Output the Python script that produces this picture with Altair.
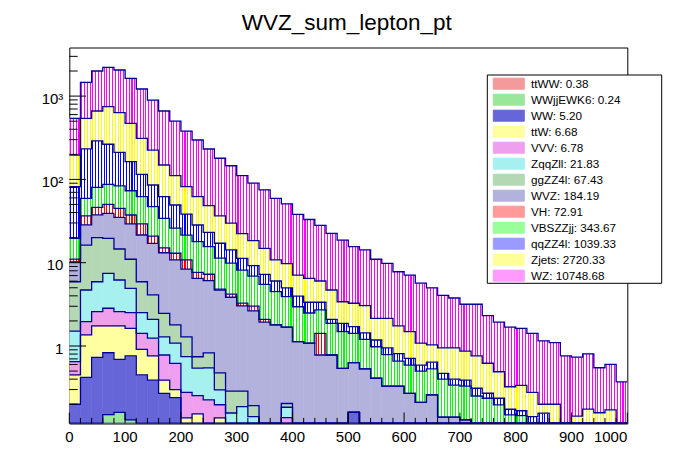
import altair as alt
import pandas as pd

# ---------------- data ----------------
labels = ["ttWW: 0.38", "WWjjEWK6: 0.24", "WW: 5.20", "ttW: 6.68", "VVV: 6.78",
          "ZqqZll: 21.83", "ggZZ4l: 67.43", "WVZ: 184.19", "VH: 72.91",
          "VBSZZjj: 343.67", "qqZZ4l: 1039.33", "Zjets: 2720.33", "WZ: 10748.68"]

ttWW = [0, 0, 0.06, 0.08, 0.09, 0.08, 0.07, 0, 0, 0,
        0, 0, 0, 0, 0, 0, 0, 0, 0, 0,
        0, 0, 0, 0, 0, 0, 0, 0, 0, 0,
        0, 0, 0, 0, 0, 0, 0, 0, 0, 0,
        0, 0, 0, 0, 0, 0, 0, 0, 0, 0]
WWjjEWK6 = [0, 0, 0.05, 0.07, 0.07, 0.05, 0, 0, 0, 0,
            0, 0, 0, 0, 0, 0, 0, 0, 0, 0,
            0, 0, 0, 0, 0, 0, 0, 0, 0, 0,
            0, 0, 0, 0, 0, 0, 0, 0, 0, 0,
            0, 0, 0, 0, 0, 0, 0, 0, 0, 0]
WW = [0.20, 0.42, 0.62, 0.68, 0.53, 0.63, 0.38, 0.39, 0.27, 0.24,
      0, 0, 0, 0, 0, 0, 0, 0, 0, 0,
      0, 0, 0, 0, 0, 0.16, 0, 0, 0, 0,
      0, 0, 0, 0, 0, 0, 0, 0, 0, 0,
      0, 0, 0, 0, 0, 0, 0, 0, 0, 0]
ttW = [0.25, 0.94, 1.01, 0.91, 1.05, 0.87, 0.46, 0.37, 0.12, 0.06,
       0.137, 0.153, 0, 0.137, 0, 0, 0, 0, 0, 0,
       0, 0, 0, 0, 0, 0, 0, 0, 0, 0,
       0, 0, 0, 0, 0, 0, 0, 0, 0, 0,
       0, 0, 0, 0, 0, 0, 0, 0, 0, 0]
VVV = [0.20, 0.60, 0.84, 1.10, 0.84, 0.88, 0.51, 0.48, 0.39, 0.32,
       0.14, 0.10, 0.225, 0.06, 0, 0, 0, 0, 0, 0.138,
       0, 0, 0, 0, 0, 0, 0, 0, 0, 0,
       0, 0, 0, 0, 0, 0, 0, 0, 0, 0,
       0, 0, 0, 0, 0, 0, 0, 0, 0, 0]
ZqqZll = [0.86, 2.74, 3.33, 4.62, 3.62, 2.42, 1.09, 0.85, 0.51, 0.46,
          0.47, 0.29, 0.32, 0.10, 0.157, 0.187, 0.142, 0, 0, 0.046,
          0, 0, 0, 0, 0, 0, 0, 0, 0, 0,
          0, 0, 0, 0, 0, 0, 0, 0, 0, 0,
          0, 0, 0, 0, 0, 0, 0, 0, 0, 0]
ggZZ4l = [4.4, 11.6, 14.1, 12.1, 8.4, 6.07, 3.4, 2.01, 1.18, 0.71,
          0.54, 0.20, 0.28, 0.18, 0.13, 0.10, 0.05, 0, 0, 0.02,
          0, 0, 0, 0, 0, 0, 0, 0, 0, 0,
          0, 0, 0, 0, 0, 0, 0, 0, 0, 0,
          0, 0, 0, 0, 0, 0, 0, 0, 0, 0]
WVZ = [4.3, 12.1, 17.4, 19.6, 20.5, 18.2, 15.6, 13.0, 10.7, 9.0,
       7.1, 5.75, 5.26, 4.22, 3.56, 2.74, 2.45, 1.93, 1.79, 1.48,
       1.13, 1.08, 0.78, 0.78, 0.54, 0.47, 0.53, 0.41, 0.33, 0.33,
       0.27, 0.21, 0.26, 0.14, 0.14, 0.13, 0, 0, 0, 0,
       0, 0, 0, 0, 0, 0, 0, 0, 0, 0]
VH = [0.8, 8.0, 8.8, 11.0, 9.9, 8.2, 7.7, 3.8, 1.9, 2.2,
      2.4, 1.17, 1.18, 0.13, 0.34, 0.24, 0.37, 0.16, 0, 0,
      0, 0, 0.64, 0, 0, 0, 0, 0, 0, 0,
      0, 0, 0, 0, 0, 0, 0, 0, 0, 0,
      0, 0, 0, 0, 0, 0, 0, 0, 0, 0]
VBSZZjj = [8.6, 22.9, 34.2, 37.1, 38.4, 35.7, 32.8, 26.1, 19.0, 13.0,
           10.7, 10.2, 8.3, 6.5, 5.7, 4.9, 3.9, 3.4, 2.7, 2.23,
           1.83, 1.41, 1.29, 1.09, 0.95, 0.79, 0.67, 0.57, 0.46, 0.33,
           0.32, 0.29, 0.27, 0.26, 0.20, 0.20, 0.251, 0.236, 0.196, 0.149,
           0.146, 0, 0, 0, 0, 0, 0, 0, 0, 0]
qqZZ4l = [62.1, 173, 209, 177, 128, 90, 53, 38.7, 27.9, 23.3,
          16.9, 10.5, 7.6, 5.8, 4.4, 3.1, 2.3, 1.76, 1.54, 1.06,
          1.02, 0.86, 0.64, 0.22, 0.38, 0.29, 0.24, 0.20, 0.16, 0.15,
          0.12, 0.09, 0.11, 0.07, 0.06, 0.06, 0.06, 0.035, 0.04, 0.025,
          0.021, 0.142, 0.156, 0, 0, 0, 0, 0, 0, 0]
Zjets = [114, 309, 373, 482, 421, 308, 196, 139, 87, 61.7,
         43.3, 33.6, 25.4, 19.3, 15.5, 11.1, 9.2, 7.6, 4.8, 4.8,
         3.1, 3.15, 2.68, 2.61, 1.53, 1.55, 1.61, 0.97, 1.20, 0.93,
         0.78, 0.49, 0.39, 0.48, 0.55, 0.48, 0.45, 0.35, 0.255, 0.15,
         0.17, 0.136, 0.044, 0.200, 0, 0.144, 0.175, 0.158, 0.171, 0]
WZ = [345, 924, 1338, 1471, 1425, 1165, 906, 672, 513, 391,
      299, 235, 183, 143, 116, 88.6, 71.6, 60.1, 48.2, 41.2,
      30.9, 26.5, 22.0, 17.8, 15.3, 12.3, 11.2, 8.85, 7.65, 6.05,
      5.6, 4.6, 3.97, 3.11, 2.82, 2.30, 2.41, 1.69, 1.44, 1.36,
      1.29, 1.14, 0.95, 0.90, 0.76, 0.59, 0.63, 0.39, 0.43, 0.37]

series = [ttWW, WWjjEWK6, WW, ttW, VVV, ZqqZll, ggZZ4l, WVZ, VH,
          VBSZZjj, qqZZ4l, Zjets, WZ]

swatch_colors = ["#f49a9a", "#9ae69a", "#6666d8", "#ffffa0", "#eea0ee",
                 "#a6f0f0", "#b4d8b4", "#b2b2dc", "#ff9a9a",
                 "#9aff9a", "#9a9aff", "#ffff9a", "#ff9aff"]
hatch_colors = {"VH: 72.91": "#ff0000", "VBSZZjj: 343.67": "#00ff00",
                "qqZZ4l: 1039.33": "#0000ff", "Zjets: 2720.33": "#ffff00",
                "WZ: 10748.68": "#ff00ff"}

title_text = "WVZ_sum_lepton_pt"
y_major = [1, 10, 100, 1000]
y_major_labels = ["1", "10", "10\u00b2", "10\u00b3"]
y_minor = [0.2, 0.3, 0.4, 0.5, 0.6, 0.7, 0.8, 0.9,
           2, 3, 4, 5, 6, 7, 8, 9,
           20, 30, 40, 50, 60, 70, 80, 90,
           200, 300, 400, 500, 600, 700, 800, 900, 2000, 3000]
x_major = [0, 100, 200, 300, 400, 500, 600, 700, 800, 900, 1000]
x_major_labels = ["0", "100", "200", "300", "400", "500", "600", "700", "800", "900", "1000"]
x_minor = [v for v in range(20, 1000, 20) if v % 100]

BIN = 20
FLOOR = 0.05
W, H = 558, 376
LINE = "#000099"
FONT = "Liberation Sans"

# ---------------- tables ----------------
rect_rows, line_rows = [], []
cum = [0.0] * len(WZ)
for lab, vals in zip(labels, series):
    for i, v in enumerate(vals):
        lo = cum[i]
        hi = lo + v
        cum[i] = hi
        rect_rows.append({"series": lab, "x0": i * BIN, "x1": (i + 1) * BIN,
                          "lo": max(lo, FLOOR), "hi": max(hi, FLOOR)})
    for i in range(len(vals)):
        line_rows.append({"series": lab, "x": i * BIN, "top": max(cum[i], FLOOR)})
    line_rows.append({"series": lab, "x": len(vals) * BIN, "top": max(cum[-1], FLOOR)})

rect_df = pd.DataFrame(rect_rows)
line_df = pd.DataFrame(line_rows)

xs = alt.Scale(domain=[0, 1000], nice=False, zero=False)
ys = alt.Scale(type="log", domain=[0.1174, 3832], nice=False, clamp=True)
cs = alt.Scale(domain=labels, range=swatch_colors)

legend = alt.Legend(orient="none", legendX=424, legendY=28.7, title=None, padding=0,
                    symbolType="M-2.214,-0.786H2.214V0.786H-2.214Z", symbolSize=196,
                    symbolOffset=8, labelOffset=14.7, rowPadding=-1.3,
                    symbolStrokeColor=LINE, symbolStrokeWidth=1, symbolOpacity=1,
                    labelFont=FONT, labelFontSize=11.7, labelColor="black",
                    labelBaseline="middle")

base = alt.Chart(rect_df).mark_rect(clip=True, strokeWidth=0.6).encode(
    x=alt.X("x0:Q", scale=xs, axis=None),
    x2="x1:Q",
    y=alt.Y("lo:Q", scale=ys, axis=None),
    y2="hi:Q",
    fill=alt.Fill("series:N", scale=cs, legend=legend),
    stroke=alt.Stroke("series:N", scale=cs, legend=None),
)


def stripes(c):
    stops = [alt.GradientStop(color="white", offset=0)]
    for k in range(4):
        a = 0.07 + 0.25 * k
        b = a + 0.095
        stops += [alt.GradientStop(color="white", offset=a),
                  alt.GradientStop(color=c, offset=a),
                  alt.GradientStop(color=c, offset=b),
                  alt.GradientStop(color="white", offset=b)]
    stops.append(alt.GradientStop(color="white", offset=1))
    return alt.LinearGradient(gradient="linear", stops=stops, x1=0, x2=1, y1=0, y2=0)


hatch_layers = []
for lab, c in hatch_colors.items():
    hatch_layers.append(
        alt.Chart(rect_df).transform_filter(alt.datum.series == lab)
        .mark_rect(clip=True, fill=stripes(c))
        .encode(x=alt.X("x0:Q", scale=xs, axis=None), x2="x1:Q",
                y=alt.Y("lo:Q", scale=ys, axis=None), y2="hi:Q")
    )

lines = alt.Chart(line_df).mark_line(interpolate="step-after", color=LINE,
                                      strokeWidth=1.3, clip=True).encode(
    x=alt.X("x:Q", scale=xs, axis=None),
    y=alt.Y("top:Q", scale=ys, axis=None),
    detail="series:N",
)

legend_box = alt.Chart(pd.DataFrame({"k": [0]})).mark_rect(
    fill="white", stroke="black", strokeWidth=1).encode(
    x=alt.value(418), x2=alt.value(592.4), y=alt.value(27.5), y2=alt.value(235.8))

ymaj = alt.Chart(pd.DataFrame({"v": y_major})).mark_rule(color="black", strokeWidth=1).encode(
    y=alt.Y("v:Q", scale=ys, axis=None), x=alt.value(0), x2=alt.value(16.7))
ymin = alt.Chart(pd.DataFrame({"v": y_minor})).mark_rule(color="black", strokeWidth=1).encode(
    y=alt.Y("v:Q", scale=ys, axis=None), x=alt.value(0), x2=alt.value(8.4))
xmaj = alt.Chart(pd.DataFrame({"v": x_major})).mark_rule(color="black", strokeWidth=1).encode(
    x=alt.X("v:Q", scale=xs, axis=None), y=alt.value(H), y2=alt.value(H - 11))
xmin = alt.Chart(pd.DataFrame({"v": x_minor})).mark_rule(color="black", strokeWidth=1).encode(
    x=alt.X("v:Q", scale=xs, axis=None), y=alt.value(H), y2=alt.value(H - 5.6))

# tick labels
xl_df = pd.DataFrame({"v": x_major, "t": x_major_labels})
xlab = alt.Chart(xl_df).transform_filter(alt.datum.v < 1000).mark_text(
    font=FONT, fontSize=15, color="black", align="center", baseline="top").encode(
    x=alt.X("v:Q", scale=xs, axis=None), y=alt.value(H + 7), text="t:N")
xlab_end = alt.Chart(xl_df).transform_filter(alt.datum.v == 1000).mark_text(
    font=FONT, fontSize=15, color="black", align="right", baseline="top").encode(
    x=alt.X("v:Q", scale=xs, axis=None), y=alt.value(H + 7), text="t:N")
ylab = alt.Chart(pd.DataFrame({"v": y_major, "t": y_major_labels})).mark_text(
    font=FONT, fontSize=15, color="black", align="right", baseline="middle", dy=2.5).encode(
    y=alt.Y("v:Q", scale=ys, axis=None), x=alt.value(-6), text="t:N")
title = alt.Chart(pd.DataFrame({"t": [title_text]})).mark_text(
    font=FONT, fontSize=22.5, color="black", align="center", baseline="alphabetic").encode(
    x=alt.value(W / 2 - 1.5), y=alt.value(-18), text="t:N")

chart = alt.layer(base, *hatch_layers, lines, legend_box, ymaj, ymin, xmaj, xmin,
                  xlab, xlab_end, ylab, title).properties(
    width=W, height=H,
    autosize=alt.AutoSizeParams(type="none"),
    padding={"left": 61.3, "top": 39.5, "right": 60, "bottom": 40},
).configure(background="white", font=FONT).configure_view(stroke="black", strokeWidth=1)

chart.save("out.html", embed_options={"renderer": "svg", "actions": False})
